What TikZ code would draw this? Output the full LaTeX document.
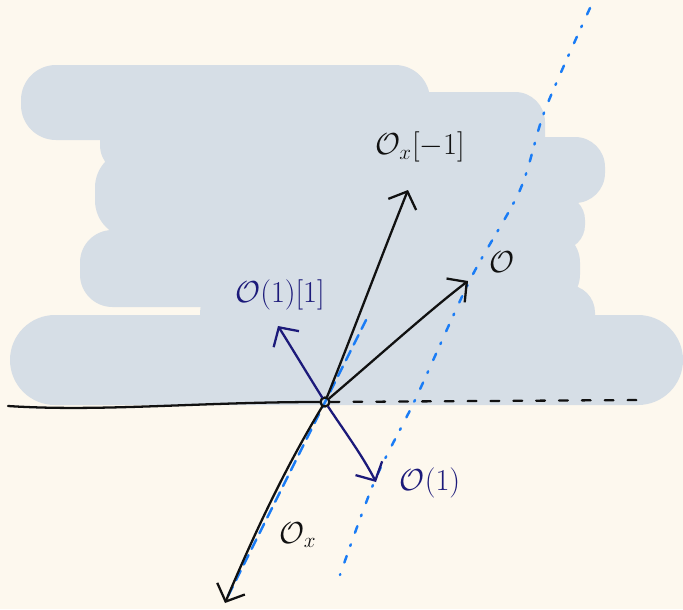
\documentclass[tikz,border=0pt]{standalone}
\usepackage{amsmath}
\usepackage{xcolor}
\usetikzlibrary{arrows.meta}
\definecolor{paper}{HTML}{FDF8EE}
\definecolor{blobgray}{HTML}{D6DEE6}
\definecolor{inkblack}{HTML}{111111}
\definecolor{inknavy}{HTML}{1C1A7A}
\definecolor{dotblue}{HTML}{1A7CF5}

\begin{document}
\begin{tikzpicture}[x=0.02cm, y=-0.02cm, >={Straight Barb[length=2.8mm,width=6mm]},
    line width=1.3pt, line cap=round, font=\LARGE]
  \fill[paper] (0,0) rectangle (683,609);
  \useasboundingbox (0,0) rectangle (683,609);
  % shaded region
  \begin{scope}[blobgray]
    \fill[rounded corners=0.7cm] (21,65) rectangle (430,140);
    \fill[rounded corners=0.6cm] (100,92) rectangle (545,175);
    \fill[rounded corners=0.75cm] (95,150) rectangle (420,238);
    \fill[rounded corners=0.6cm] (300,137) rectangle (605,203);
    \fill[rounded corners=0.5cm] (300,195) rectangle (585,250);
    \fill[rounded corners=0.65cm] (80,230) rectangle (580,307);
    \fill[rounded corners=0.55cm] (200,285) rectangle (595,345);
    \fill[rounded corners=0.9cm] (10,315) rectangle (683,405);
  \end{scope}
  % dotted lines
  \draw[dotblue, line width=1.4pt, dash pattern=on 4pt off 7pt on 1pt off 6pt]
    plot[smooth] coordinates {(590,8) (545,110) (520,190) (470,280) (415,400) (375,480) (340,575)};
  \draw[dotblue, line width=1.4pt, dash pattern=on 6pt off 4pt] (228,596) -- (366,320);
  % origin and axis
  \node[circle, draw=inkblack, line width=1.3pt, inner sep=0pt, minimum size=0.18cm] (o) at (325,402) {};
  \coordinate (l) at (8,406);
  \coordinate (r) at (640,400);
  \draw[inkblack] (l) .. controls (100,412) and (200,402) .. (o);
  \draw[inkblack, dash pattern=on 5pt off 8pt] (o) -- (r);
  % arrows
  \coordinate (oxs) at (408,190);
  \coordinate (ostr) at (468,281);
  \coordinate (otw) at (278,326);
  \coordinate (oone) at (376,482);
  \coordinate (ox) at (225,603);
  \draw[inkblack, ->] (o) .. controls (350,340) and (380,260) .. (oxs);
  \draw[inkblack, ->] (o) .. controls (380,355) and (430,310) .. (ostr);
  \draw[inknavy, ->] (o) .. controls (305,370) and (290,345) .. (otw);
  \draw[inknavy, ->] (o) .. controls (345,432) and (362,455) .. (oone);
  \draw[inkblack, ->] (o) .. controls (290,460) and (260,520) .. (ox);
  % labels
  \node[inkblack] (oxslbl) at (420,147) {$\mathcal{O}_x[-1]$};
  \node[inkblack] (ostrlbl) at (502,262) {$\mathcal{O}$};
  \node[inknavy] (otwlbl) at (280,295) {$\mathcal{O}(1)[1]$};
  \node[inknavy] (oonelbl) at (430,483) {$\mathcal{O}(1)$};
  \node[inkblack] (oxlbl) at (298,535) {$\mathcal{O}_x$};
\end{tikzpicture}
\end{document}
